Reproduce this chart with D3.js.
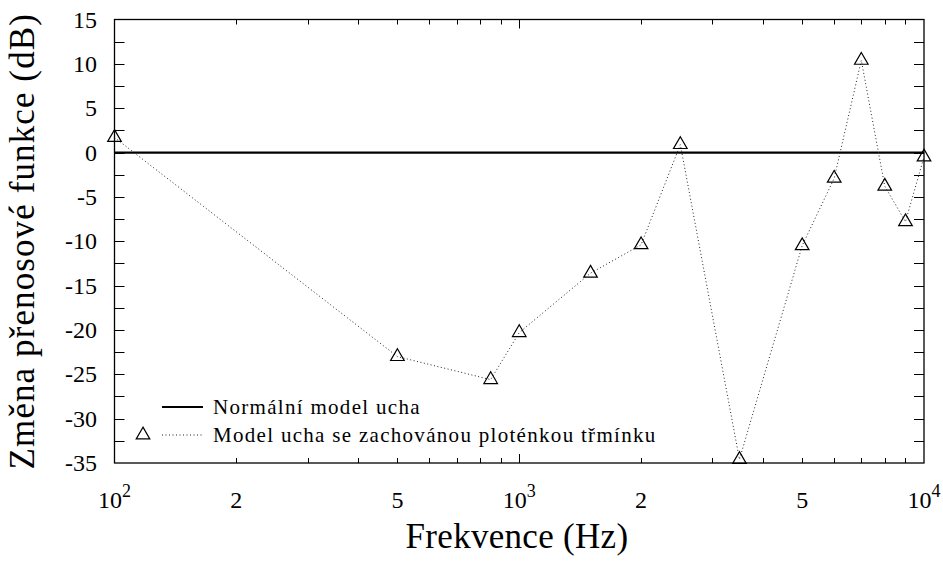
<!DOCTYPE html>
<html>
<head>
<meta charset="utf-8">
<script src="https://cdn.jsdelivr.net/npm/d3@7"></script>
<style>
  body { margin: 0; background: #fff; }
  svg text { font-family: "Liberation Serif", "Times New Roman", serif; fill: #000; }
</style>
</head>
<body>
<div id="chart"></div>
<script>
// data
var freqs = [100, 500, 850, 1000, 1500, 2000, 2500, 3500, 5000, 6000, 7000, 8000, 9000, 10000];
var zmena = [1.7, -23.0, -25.6, -20.3, -13.6, -10.4, 0.9, -34.6, -10.5, -2.9, 10.4, -3.8, -7.8, -0.5];
var normalLevel = [0, 0];
var yTicks = [15, 10, 5, 0, -5, -10, -15, -20, -25, -30, -35];
var xTickVals = [100, 200, 500, 1000, 2000, 5000, 10000];
var xTickText = ["10|2", "2", "5", "10|3", "2", "5", "10|4"];
var legendNames = ["Normální model ucha", "Model ucha se zachovánou ploténkou třmínku"];

var width = 943, height = 561;
var plotL = 114.5, plotR = 924, plotT = 19.5, plotB = 463;

var svg = d3.select("#chart").append("svg")
    .attr("width", width)
    .attr("height", height);

var x = d3.scaleLog().domain([100, 10000]).range([plotL, plotR]);
var y = d3.scaleLinear().domain([-35, 15]).range([plotB, plotT]);

// minor ticks on log axis
var minorX = [];
[100, 1000].forEach(function(dec){
    for (var k = 2; k <= 9; k++) minorX.push(dec * k);
});

// y ticks every 2.5, inside both sides
var yAll = d3.range(-35, 15.01, 2.5);
var ticksG = svg.append("g").attr("stroke", "#000").attr("stroke-width", 1);
yAll.forEach(function(v){
    if (v === 15 || v === -35) return;
    var py = Math.round(y(v)) + 0.5;
    ticksG.append("line").attr("x1", plotL).attr("x2", plotL + 10).attr("y1", py).attr("y2", py);
    ticksG.append("line").attr("x1", plotR).attr("x2", plotR - 10).attr("y1", py).attr("y2", py);
});
minorX.forEach(function(v){
    var px = Math.round(x(v)) + 0.5;
    ticksG.append("line").attr("x1", px).attr("x2", px).attr("y1", plotB).attr("y2", plotB - 5);
    ticksG.append("line").attr("x1", px).attr("x2", px).attr("y1", plotT).attr("y2", plotT + 5);
});
var px3 = Math.round(x(1000)) + 0.5;
ticksG.append("line").attr("x1", px3).attr("x2", px3).attr("y1", plotB).attr("y2", plotB - 9);
ticksG.append("line").attr("x1", px3).attr("x2", px3).attr("y1", plotT).attr("y2", plotT + 9);

// frame
svg.append("rect")
    .attr("x", plotL).attr("y", plotT)
    .attr("width", plotR - plotL).attr("height", plotB - plotT)
    .attr("fill", "none").attr("stroke", "#000").attr("stroke-width", 1.3);

// y tick labels
svg.append("g").selectAll("text").data(yTicks).enter().append("text")
    .attr("x", 97)
    .attr("y", function(d){ return y(d) + 8; })
    .attr("text-anchor", "end")
    .attr("font-size", 24)
    .text(function(d){ return d; });

// x tick labels
var xl = svg.append("g").selectAll("text").data(xTickVals).enter().append("text")
    .attr("x", function(d){ return x(d); })
    .attr("y", 508)
    .attr("text-anchor", "middle")
    .attr("font-size", 24);
xl.each(function(d, i){
    var parts = xTickText[i].split("|");
    var t = d3.select(this);
    t.append("tspan").text(parts[0]);
    if (parts[1]) {
        t.append("tspan").attr("dy", -11).attr("font-size", 18).text(parts[1]);
    }
});

// axis titles
svg.append("text")
    .attr("x", 517).attr("y", 548)
    .attr("text-anchor", "middle")
    .attr("font-size", 35)
    .attr("letter-spacing", 0.3)
    .text("Frekvence (Hz)");

svg.append("text")
    .attr("transform", "translate(34," + ((plotT + plotB) / 2) + ") rotate(-90)")
    .attr("text-anchor", "middle")
    .attr("font-size", 35)
    .attr("letter-spacing", 1.1)
    .text("Změna přenosové funkce (dB)");

// normal model line
svg.append("line")
    .attr("x1", plotL).attr("x2", plotR)
    .attr("y1", y(normalLevel[0])).attr("y2", y(normalLevel[1]))
    .attr("stroke", "#000").attr("stroke-width", 2.2);

// measured series
var pts = freqs.map(function(f, i){ return [f, zmena[i]]; });
var line = d3.line().x(function(d){ return x(d[0]); }).y(function(d){ return y(d[1]); });

svg.append("path")
    .attr("d", line(pts))
    .attr("fill", "none")
    .attr("stroke", "#222")
    .attr("stroke-width", 1)
    .attr("stroke-dasharray", "1,2.5");

var tri = d3.symbol().type(d3.symbolTriangle).size(80);
svg.append("g").selectAll("path").data(pts).enter().append("path")
    .attr("d", tri)
    .attr("transform", function(d){ return "translate(" + x(d[0]) + "," + y(d[1]) + ")"; })
    .attr("fill", "none")
    .attr("stroke", "#000")
    .attr("stroke-width", 1.2);

// legend
var lg = svg.append("g");
lg.append("line").attr("x1", 162).attr("x2", 203).attr("y1", 407).attr("y2", 407)
    .attr("stroke", "#000").attr("stroke-width", 2.2);
lg.append("text").attr("x", 213).attr("y", 414).attr("font-size", 21)
    .attr("letter-spacing", 1.3).text(legendNames[0]);
lg.append("line").attr("x1", 162).attr("x2", 203).attr("y1", 435).attr("y2", 435)
    .attr("stroke", "#222").attr("stroke-width", 1).attr("stroke-dasharray", "1,2.5");
lg.append("path").attr("d", tri)
    .attr("transform", "translate(143,435)")
    .attr("fill", "none").attr("stroke", "#000").attr("stroke-width", 1.2);
lg.append("text").attr("x", 213).attr("y", 442).attr("font-size", 21)
    .attr("letter-spacing", 1.3).text(legendNames[1]);
</script>
</body>
</html>
